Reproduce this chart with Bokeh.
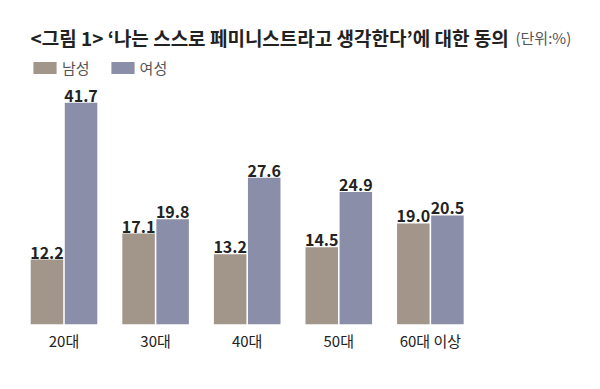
from bokeh.plotting import figure
from bokeh.models import ColumnDataSource, Label, Legend, LegendItem, FixedTicker
from bokeh.core.properties import value
from bokeh.embed import file_html
from bokeh.resources import INLINE

categories = ["20대", "30대", "40대", "50대", "60대 이상"]
male = [12.2, 17.1, 13.2, 14.5, 19.0]
female = [41.7, 19.8, 27.6, 24.9, 20.5]
series_names = ["남성", "여성"]
title_text = "<그림 1> ‘나는 스스로 페미니스트라고 생각한다’에 대한 동의"
unit_text = "(단위:%)"

FONT = "Noto Sans CJK KR"
MALE_C = "#A29589"
FEMALE_C = "#8B8EA8"

idx = list(range(len(categories)))
off = 0.186
bw = 0.355

src = ColumnDataSource(dict(
    xm=[i - off for i in idx], xf=[i + off for i in idx],
    male=male, female=female,
    ml=[f"{v:.1f}" for v in male], fl=[f"{v:.1f}" for v in female],
))

p = figure(width=592, height=381, output_backend="svg", toolbar_location=None,
           x_range=(-0.606, 5.77), y_range=(0, 59.4),
           min_border_left=8, min_border_right=0, min_border_top=8, min_border_bottom=57)
p.outline_line_color = None
p.grid.visible = False
p.yaxis.visible = False
p.background_fill_color = "white"
p.border_fill_color = "white"

rm = p.vbar(x="xm", top="male", width=bw, bottom=0, source=src, fill_color=MALE_C, line_color=None)
rf = p.vbar(x="xf", top="female", width=bw, bottom=0, source=src, fill_color=FEMALE_C, line_color=None)

for col, lab in (("xm", "ml"), ("xf", "fl")):
    top = "male" if col == "xm" else "female"
    p.text(x=col, y=top, text=lab, source=src, text_align="center", text_baseline="bottom",
           y_offset=-1, text_font=value(FONT), text_font_style="bold", text_font_size="16px",
           text_color="#222222")

xa = p.xaxis[0]
xa.ticker = FixedTicker(ticks=idx)
xa.major_label_overrides = {i: c for i, c in zip(idx, categories)}
xa.axis_line_color = None
xa.major_tick_line_color = None
xa.minor_tick_line_color = None
xa.major_tick_out = 0
xa.major_tick_in = 0
xa.minor_tick_out = 0
xa.major_label_standoff = 5
xa.major_label_text_font = FONT
xa.major_label_text_font_size = "15px"
xa.major_label_text_color = "#222222"

p.add_layout(Label(x=22, y=287, x_units="screen", y_units="screen", text=title_text,
                   text_font=FONT, text_font_style="bold", text_font_size="19px",
                   text_color="#222222", text_baseline="middle"))
p.add_layout(Label(x=507, y=287, x_units="screen", y_units="screen", text=unit_text,
                   text_font=FONT, text_font_size="15px",
                   text_color="#555555", text_baseline="middle"))

legend = Legend(items=[LegendItem(label=series_names[0], renderers=[rm]),
                       LegendItem(label=series_names[1], renderers=[rf])],
                location=(22, 246), orientation="horizontal",
                glyph_width=29, glyph_height=15, label_standoff=3, spacing=18,
                padding=0, margin=0, border_line_color=None, background_fill_alpha=0,
                label_text_font=FONT, label_text_font_size="15px", label_text_color="#555555",
                label_height=15)
p.add_layout(legend)

open("out.html", "w").write(file_html(p, INLINE))
